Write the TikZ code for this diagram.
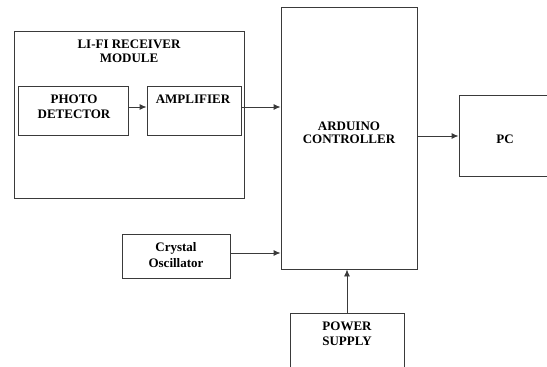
\documentclass[tikz,border=0pt]{standalone}
\usepackage{fontspec}
\setmainfont{Liberation Serif}
\usetikzlibrary{arrows.meta}
\definecolor{linegray}{HTML}{3A3A3A}
\tikzset{
  blk/.style={draw=linegray, line width=0.9pt, inner sep=0pt},
  lbl/.style={font=\bfseries\fontsize{13}{15.5}\selectfont, align=center, text=black, inner sep=0pt},
  conn/.style={draw=linegray, line width=0.9pt, -{Latex[length=7pt,width=6pt]}}
}
\begin{document}
\begin{tikzpicture}[x=1pt,y=-1pt]
\useasboundingbox[fill=white] (0,0) rectangle (547,367);
% boxes
\node[blk, minimum width=230pt, minimum height=167pt] (module) at (129,114.5) {};
\node[blk, minimum width=110pt, minimum height=49pt] (pd) at (73,110.5) {};
\node[blk, minimum width=94pt, minimum height=49pt] (amp) at (194,110.5) {};
\node[blk, minimum width=136pt, minimum height=262pt] (ard) at (349,138) {};
\node[blk, minimum width=92pt, minimum height=81pt] (pc) at (505,135.5) {};
\node[blk, minimum width=108pt, minimum height=44pt] (xtal) at (176,256) {};
\node[blk, minimum width=114pt, minimum height=62pt] (ps) at (347,344) {};
% texts
\node[lbl] (tmod) at (129,51.5) {LI-FI RECEIVER\\[-1.5pt]MODULE};
\node[lbl] (tpd) at (74,107) {PHOTO\\DETECTOR};
\node[lbl] (tamp) at (193,99) {AMPLIFIER};
\node[lbl] (tard) at (349,133) {ARDUINO\\[-2.5pt]CONTROLLER};
\node[lbl] (tpc) at (505,139) {PC};
\node[lbl] (txtal) at (176,255) {Crystal\\Oscillator};
\node[lbl] (tps) at (347,334) {POWER\\SUPPLY};
% connectors
\draw[conn] (pd.east |- 0,107) -- (amp.west |- 0,107);
\draw[conn] (amp.east |- 0,107) -- (ard.west |- 0,107);
\draw[conn] (ard.east |- 0,136) -- (pc.west |- 0,136);
\draw[conn] (xtal.east |- 0,253) -- (ard.west |- 0,253);
\draw[conn] (ps.north) -- (ard.south -| ps.north);
\end{tikzpicture}
\end{document}
